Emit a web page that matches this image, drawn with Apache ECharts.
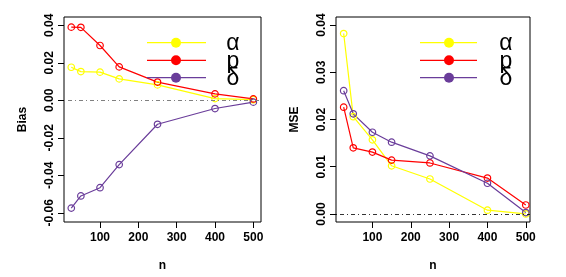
<!DOCTYPE html>
<html>
<head>
<meta charset="utf-8">
<script src="https://cdn.jsdelivr.net/npm/echarts@6/dist/echarts.min.js"></script>
<style>html,body{margin:0;padding:0;background:#fff;}#c{width:566px;height:277px;}</style>
</head>
<body>
<div id="c"></div>
<script>
const nVals = [25, 50, 100, 150, 250, 400, 500];
const biasAlpha = [0.0176, 0.0153, 0.0150, 0.0114, 0.0082, 0.0009, 0.0003];
const biasP = [0.0390, 0.0389, 0.0292, 0.0178, 0.0097, 0.0034, 0.0007];
const biasDelta = [-0.0575, -0.0510, -0.0466, -0.0343, -0.0128, -0.0044, -0.0010];
const mseAlpha = [0.0382, 0.0206, 0.0157, 0.0102, 0.0074, 0.0008, 0.0000];
const mseP = [0.0226, 0.0140, 0.0131, 0.0114, 0.0108, 0.0076, 0.0019];
const mseDelta = [0.0261, 0.0212, 0.0173, 0.0152, 0.0123, 0.0065, 0.0003];
const xTicks = [100, 200, 300, 400, 500];
const biasTicks = [-0.06, -0.04, -0.02, 0, 0.02, 0.04];
const mseTicks = [0, 0.01, 0.02, 0.03, 0.04];
const legendLabels = ['α', 'p', 'δ'];
const colors = ['#ffff00', '#ff0000', '#6a3d9a'];

const tickFont = "'Liberation Sans Narrow', 'Liberation Sans', Arial, sans-serif";
const pairs = (ys) => nVals.map((x, i) => [x, ys[i]]);

function xAxisCfg(gi, min, max) {
  return {
    type: 'value', gridIndex: gi, min: min, max: max, position: 'bottom',
    name: 'n', nameLocation: 'middle', nameGap: 38,
    nameTextStyle: {fontFamily: tickFont, fontWeight: 'bold', fontSize: 12, color: '#000'},
    axisLine: {show: false, onZero: false},
    splitLine: {show: false},
    axisTick: {show: true, length: 6, customValues: xTicks, lineStyle: {color: '#000'}},
    axisLabel: {customValues: xTicks, margin: 10, fontFamily: tickFont, fontWeight: 'bold', fontSize: 12, color: '#000'}
  };
}
function yAxisCfg(gi, min, max, ticks, name) {
  return {
    type: 'value', gridIndex: gi, min: min, max: max, position: 'left',
    name: name, nameLocation: 'middle', nameGap: 35, nameRotate: 90,
    nameTextStyle: {fontFamily: tickFont, fontWeight: 'bold', fontSize: 12, color: '#000'},
    axisLine: {show: false, onZero: false},
    splitLine: {show: false},
    axisTick: {show: true, length: 6, customValues: ticks, lineStyle: {color: '#000'}},
    axisLabel: {customValues: ticks, rotate: 90, margin: 8, fontFamily: tickFont, fontWeight: 'bold', fontSize: 12, color: '#000',
      formatter: v => (Math.abs(v) < 1e-9 ? 0 : v).toFixed(2)}
  };
}
function lineSeries(gi, ys, color, extra) {
  const s = {
    type: 'line', xAxisIndex: gi, yAxisIndex: gi, data: pairs(ys),
    symbol: 'circle', symbolSize: 6.5, z: 3,
    lineStyle: {color: color, width: 1.2},
    itemStyle: {color: 'rgba(0,0,0,0)', borderColor: color, borderWidth: 1.2},
    emphasis: {disabled: true}, animation: false
  };
  return Object.assign(s, extra || {});
}
function zeroLine(color, width) {
  return {markLine: {silent: true, symbol: 'none', label: {show: false},
    lineStyle: {color: color, type: [1, 3, 4, 3], width: width}, data: [{yAxis: 0}]}};
}

function legendGraphics(x1, x2, xc, xt, rows) {
  const g = [];
  rows.forEach((y, i) => {
    g.push({type: 'line', shape: {x1: x1, y1: y, x2: x2, y2: y}, style: {stroke: colors[i], lineWidth: 1.2}, z: 10});
    g.push({type: 'circle', shape: {cx: xc, cy: y, r: 5}, style: {fill: colors[i]}, z: 10});
    g.push({type: 'text', x: xt, y: y + 1, style: {text: legendLabels[i], fill: '#000', font: "23px 'Liberation Sans', Arial, sans-serif", textAlign: 'center', textVerticalAlign: 'middle'}, z: 10});
  });
  return g;
}

const chart = echarts.init(document.getElementById('c'), null, {renderer: 'canvas'});
chart.setOption({
  animation: false,
  backgroundColor: '#fff',
  grid: [
    {left: 64, top: 17, width: 197, height: 205, show: true, borderColor: '#000', borderWidth: 1, backgroundColor: 'transparent'},
    {left: 336, top: 17, width: 194, height: 205, show: true, borderColor: '#000', borderWidth: 1, backgroundColor: 'transparent'}
  ],
  xAxis: [xAxisCfg(0, 6, 520), xAxisCfg(1, 5, 511)],
  yAxis: [yAxisCfg(0, -0.0649, 0.0444, biasTicks, 'Bias'), yAxisCfg(1, -0.0017, 0.0417, mseTicks, 'MSE')],
  series: [
    lineSeries(0, biasAlpha, colors[0], zeroLine('#808080', 1.2)),
    lineSeries(0, biasP, colors[1]),
    lineSeries(0, biasDelta, colors[2]),
    lineSeries(1, mseAlpha, colors[0], zeroLine('#000', 0.8)),
    lineSeries(1, mseP, colors[1]),
    lineSeries(1, mseDelta, colors[2])
  ],
  graphic: legendGraphics(147, 206, 176, 233, [42.7, 60.3, 77.7])
    .concat(legendGraphics(420, 477, 449, 506, [42.7, 60.3, 77.7]))
});
</script>
</body>
</html>
